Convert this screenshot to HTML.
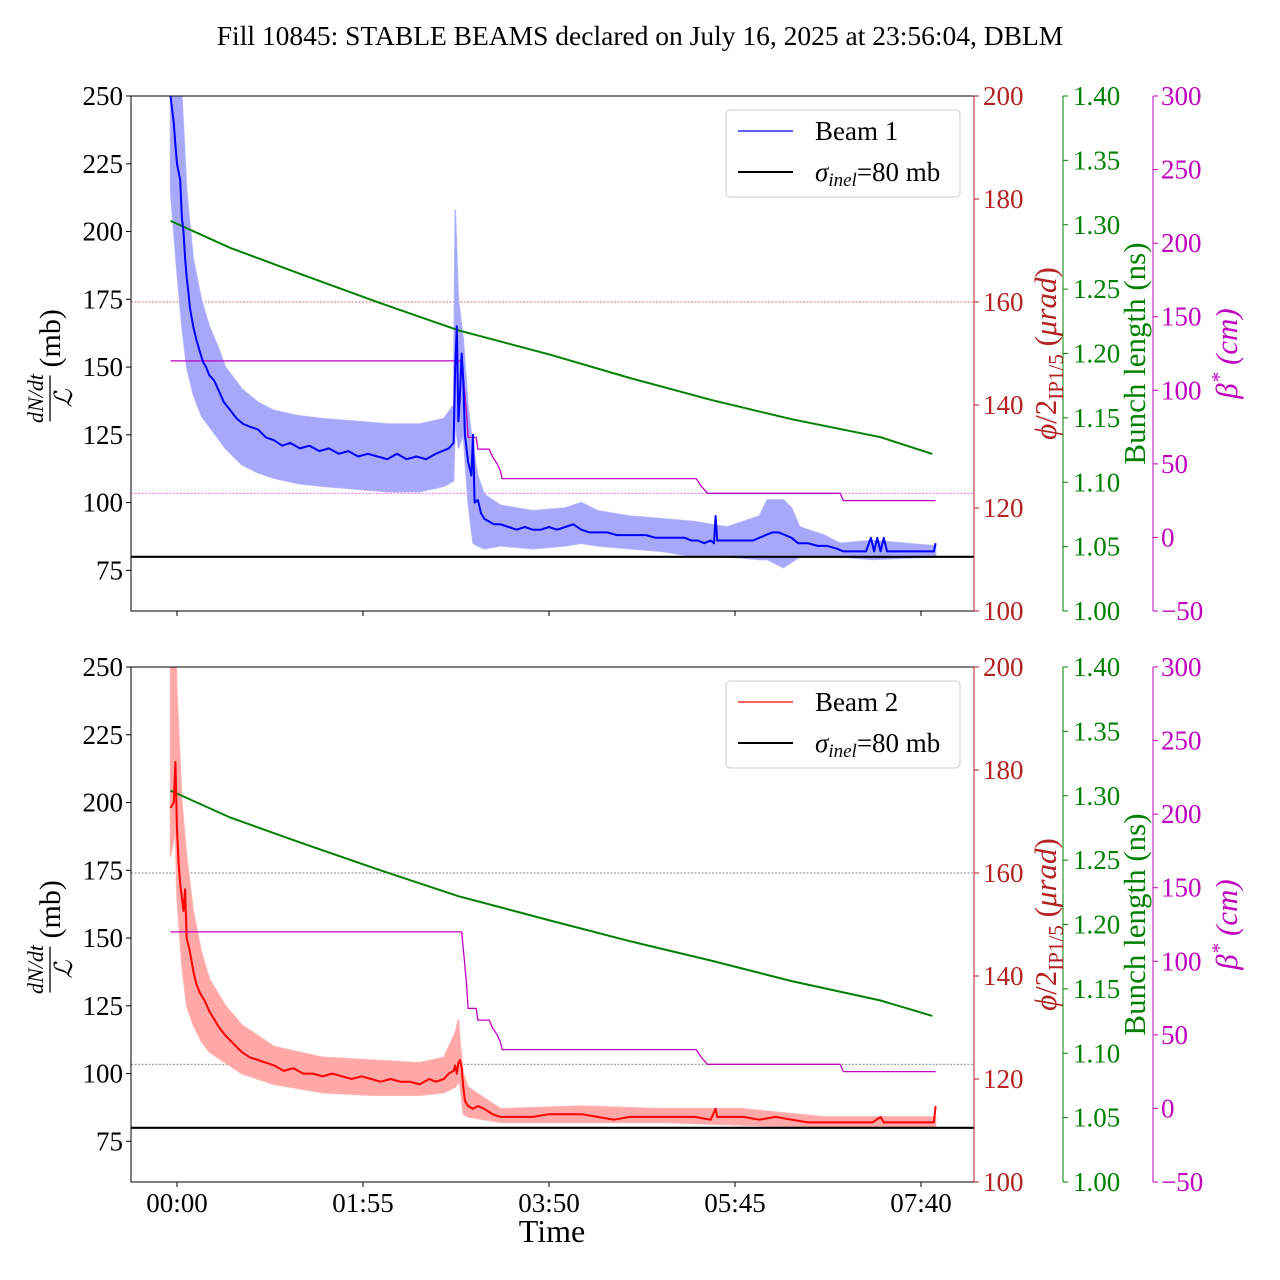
<!DOCTYPE html>
<html><head><meta charset="utf-8"><style>
html,body{margin:0;padding:0;background:#fff}
svg{display:block;font-family:"Liberation Serif","DejaVu Serif",serif}
</style></head><body>
<svg id="chart" width="1280" height="1280" viewBox="0 0 1280 1280" xmlns="http://www.w3.org/2000/svg">
<text x="640" y="45" font-size="27.5" text-anchor="middle">Fill 10845: STABLE BEAMS declared on July 16, 2025 at 23:56:04, DBLM</text>
<g id="root"></g>
</svg>
<script>
// ---------- DATA ----------
const xTickLabels = ["00:00","01:55","03:50","05:45","07:40"];
const xTickMinutes = [0,115,230,345,460];
const leftTicks = [75,100,125,150,175,200,225,250];
const redTicks = [100,120,140,160,180,200];
const greenTicks = [1.00,1.05,1.10,1.15,1.20,1.25,1.30,1.35,1.40];
const magTicks = [-50,0,50,100,150,200,250,300];
const sigmaInel = 80;
const crossingRef = 160;
const betaRef = 30;

const b1T = [-4,-2,-1,0,1,2,3,4,5,6,7,8,10,12,14,16,18,20,23,26,29,33,37,41,45,50,55,60,65,70,76,82,88,94,100,106,112,118,124,130,136,142,148,154,160,164,168,171,172,173,174,175,176,177,178,180,182,183,184,186,188,190,193,196,200,205,210,215,220,225,230,235,240,245,250,255,260,266,272,278,284,290,296,302,308,314,318,322,326,330,332,333,334,340,346,352,356,360,364,368,372,376,380,384,390,396,402,408,412,420,426,429,431,433,435,437,439,444,450,456,462,468,469];
const b1V = [250,240,232,225,222,219,205,200,190,183,178,172,165,160,156,152,150,147,145,141,137,134,131,129,128,127,124,123,121,122,120,121,119,120,118,119,117,118,117,116,118,116,117,116,118,119,120,122,150,165,130,140,155,145,125,115,110,125,100,101,96,94,93,92,92,91,90,91,90,90,91,90,91,92,90,89,89,89,88,88,88,88,87,87,87,87,86,86,85,86,85,95,86,86,86,86,86,87,88,89,89,88,87,85,85,84,84,83,82,82,82,87,82,87,82,87,82,82,82,82,82,82,85];
const b1BandT = [-4,0,3,6,10,15,20,25,30,40,50,60,75,90,110,130,150,165,171,172,174,177,180,183,186,190,200,220,240,250,260,280,300,320,340,360,365,375,380,385,400,410,430,469];
const b1Lo = [215,185,165,150,140,132,128,124,120,114,111,109,107,106,105,104,104,106,108,130,120,125,100,85,84,83,84,83,84,85,84,83,82,80,80,79,79,76,78,80,80,80,79,80];
const b1Hi = [260,260,250,215,190,175,165,158,150,142,137,134,132,131,130,129,129,131,136,208,175,160,135,120,110,103,99,97,98,100,97,95,94,93,91,95,101,101,98,91,88,85,86,84];

const b2T = [-4,-2,-1,0,1,2,3,4,5,6,8,10,12,14,17,20,23,26,30,35,40,45,50,55,60,66,72,78,84,90,96,102,108,114,120,126,132,138,144,150,156,160,165,168,171,172,173,174,175,176,177,178,180,183,186,190,195,200,210,220,230,240,250,260,270,280,290,300,310,320,330,333,334,340,350,360,370,380,390,400,410,420,430,435,437,450,460,468,469];
const b2V = [198,200,215,190,178,170,165,160,168,150,145,138,133,130,127,123,120,117,114,111,108,106,105,104,103,101,102,100,100,99,100,99,98,99,98,97,98,97,97,96,98,97,98,100,101,103,100,104,105,102,95,90,88,87,88,87,85,84,84,84,85,85,85,84,83,84,84,84,84,84,83,87,84,84,84,83,84,83,82,82,82,82,82,84,82,82,82,82,88];
const b2BandT = [-4,-1,0,3,6,10,15,20,30,40,60,90,120,150,165,172,174,175,177,180,200,250,300,350,400,469];
const b2Lo = [180,190,165,140,125,118,112,108,104,100,96,93,92,92,93,95,97,96,85,84,82,82,82,81,80,80];
const b2Hi = [250,260,240,200,180,160,145,135,125,118,110,106,105,104,106,115,120,112,100,95,87,88,87,87,84,84];

const g1T = [-4,33,80,126,174,231,280,330,380,435,467];
const g1V = [1.303,1.282,1.260,1.239,1.218,1.199,1.181,1.164,1.149,1.135,1.122];
const g2V = [1.304,1.283,1.262,1.242,1.222,1.203,1.187,1.172,1.156,1.141,1.129];

const betaT = [-4,176,179,180,185,186,193,195,198,200,201,321,324,328,410,412,469];
const betaV = [120,120,85,68,68,60,60,55,50,45,40,40,35,30,30,25,25];

// ---------- SCALES ----------
const X0=131, X1=974, H=515, FS=27;
function xs(t){return 177 + t*186/115;}
function yL(oy,v){return oy+(250-v)/190*H;}
function yR(oy,v){return oy+(200-v)/100*H;}
function yG(oy,v){return oy+(1.4-v)/0.4*H;}
function yM(oy,v){return oy+(300-v)/350*H;}

const NS="http://www.w3.org/2000/svg";
const root=document.getElementById('root');
function mk(tag,attrs,parent){const e=document.createElementNS(NS,tag);for(const k in attrs)e.setAttribute(k,attrs[k]);(parent||root).appendChild(e);return e;}
function pts(T,V,fy){return T.map((t,i)=>xs(t).toFixed(1)+','+fy(V[i]).toFixed(1)).join(' ');}

function panel(idx,oy,beamT,beamV,bandT,lo,hi,col,bandCol,gV,refCol,label){
  const defs=mk('defs',{});
  const cp=mk('clipPath',{id:'clip'+idx},defs);
  mk('rect',{x:X0,y:oy,width:X1-X0,height:H},cp);
  const g=mk('g',{'clip-path':'url(#clip'+idx+')'});
  
  
  let l=mk('line',{x1:X0,x2:X1,y1:yR(oy,crossingRef),y2:yR(oy,crossingRef),stroke:refCol[0],'stroke-width':0.8,'stroke-dasharray':'2,1.5'},g);
  
  
  l=mk('line',{x1:X0,x2:X1,y1:yM(oy,betaRef),y2:yM(oy,betaRef),stroke:refCol[1],'stroke-width':0.8,'stroke-dasharray':'2,1.5'},g);
  
  
  const bp=pts(bandT,hi,v=>yL(oy,v))+' '+pts(bandT.slice().reverse(),lo.slice().reverse(),v=>yL(oy,v));
  let e=mk('polygon',{points:bp,fill:bandCol,stroke:bandCol,'stroke-width':1.5,'stroke-opacity':0.8},g);
  
  
  e=mk('polyline',{points:pts(g1T,gV,v=>yG(oy,v)),fill:'none',stroke:'#008000','stroke-width':2},g);
  
  
  e=mk('polyline',{points:pts(betaT,betaV,v=>yM(oy,v)),fill:'none',stroke:'#bf00bf','stroke-width':1.3},g);
  
  
  e=mk('polyline',{points:pts(beamT,beamV,v=>yL(oy,v)),fill:'none',stroke:col,'stroke-width':2,'stroke-linejoin':'round'},g);
  
  
  e=mk('line',{x1:X0,x2:X1,y1:yL(oy,sigmaInel),y2:yL(oy,sigmaInel),stroke:'#000','stroke-width':2.2},g);
  
  
  mk('rect',{x:X0,y:oy,width:X1-X0,height:H,fill:'none',stroke:'#000','stroke-width':1});
  leftTicks.forEach(v=>{const y=yL(oy,v);mk('line',{x1:X0-5,x2:X0,y1:y,y2:y,stroke:'#000'});
    const t=mk('text',{x:X0-8,y:y+9,'font-size':FS,'text-anchor':'end'});t.textContent=v;
    
    });
  mk('line',{x1:X1,x2:X1,y1:oy,y2:oy+H,stroke:'#b22222'});
  redTicks.forEach(v=>{const y=yR(oy,v);mk('line',{x1:X1,x2:X1+5,y1:y,y2:y,stroke:'#b22222'});
    const t=mk('text',{x:X1+9,y:y+9,'font-size':FS,fill:'#b22222'});t.textContent=v;
    
    });
  const GX=1063;
  mk('line',{x1:GX,x2:GX,y1:oy,y2:oy+H,stroke:'#008000'});
  greenTicks.forEach(v=>{const y=yG(oy,v);mk('line',{x1:GX,x2:GX+5,y1:y,y2:y,stroke:'#008000'});
    const t=mk('text',{x:GX+10,y:y+9,'font-size':FS,fill:'#008000'});t.textContent=v.toFixed(2);
    
    });
  const MX=1153;
  mk('line',{x1:MX,x2:MX,y1:oy,y2:oy+H,stroke:'#bf00bf'});
  magTicks.forEach(v=>{const y=yM(oy,v);mk('line',{x1:MX,x2:MX+5,y1:y,y2:y,stroke:'#bf00bf'});
    const t=mk('text',{x:MX+8,y:y+9,'font-size':FS,fill:'#bf00bf'});t.textContent=(v<0?'\u2212'+(-v):v);
    
    });
  xTickMinutes.forEach((m,i)=>{const x=xs(m);mk('line',{x1:x,x2:x,y1:oy+H,y2:oy+H+5,stroke:'#000'});
    if(idx===2){const t=mk('text',{x:x,y:oy+H+30,'font-size':FS,'text-anchor':'middle'});t.textContent=xTickLabels[i];
      
      }});
  const cy=oy+H/2;
  const lg=mk('g',{transform:'translate(50,'+cy+') rotate(-90)'});
  
  
  let t=mk('text',{x:-45,y:-7,'font-size':22,'font-style':'italic','text-anchor':'middle'},lg);t.textContent='dN/dt';
  mk('line',{x1:-68,x2:-22,y1:0,y2:0,stroke:'#000','stroke-width':1.3},lg);
  t=mk('text',{x:-45,y:22,'font-size':25,'font-style':'italic','text-anchor':'middle'},lg);t.textContent='\u2112';
  t=mk('text',{x:-14,y:10,'font-size':30},lg);t.textContent='(mb)';
  const rg=mk('g',{transform:'translate(1056,'+cy+') rotate(-90)'});
  
  
  t=mk('text',{x:0,y:0,'font-size':31,fill:'#b22222','text-anchor':'middle'},rg);
  t.innerHTML='<tspan font-style="italic">\u03D5</tspan>/2<tspan font-size="21" dy="7">IP1/5</tspan><tspan dy="-7"> (</tspan><tspan font-style="italic">\u03BCrad</tspan>)';
  const gg=mk('g',{transform:'translate(1145,'+cy+') rotate(-90)'});
  
  
  t=mk('text',{x:0,y:0,'font-size':31,fill:'#008000','text-anchor':'middle'},gg);t.textContent='Bunch length (ns)';
  const mg=mk('g',{transform:'translate(1237,'+cy+') rotate(-90)'});
  
  
  t=mk('text',{x:0,y:0,'font-size':31,fill:'#bf00bf','text-anchor':'middle','font-style':'italic'},mg);
  t.innerHTML='\u03B2<tspan font-size="21" dy="-11">*</tspan><tspan dy="11"> (cm)</tspan>';
  const L=mk('g',{});
  
  
  mk('rect',{x:726,y:oy+14,width:234,height:87,rx:4,fill:'#fff','fill-opacity':0.85,stroke:'#ccc'},L);
  mk('line',{x1:738,x2:793,y1:oy+35,y2:oy+35,stroke:col,'stroke-width':1.3},L);
  t=mk('text',{x:815,y:oy+44,'font-size':FS},L);t.textContent=label;
  
  
  mk('line',{x1:738,x2:793,y1:oy+76,y2:oy+76,stroke:'#000','stroke-width':2},L);
  t=mk('text',{x:815,y:oy+85,'font-size':FS},L);
  t.innerHTML='<tspan font-style="italic">\u03C3</tspan><tspan font-style="italic" font-size="19" dy="5">inel</tspan><tspan dy="-5">=80 mb</tspan>';
  
  
}
panel(1,96,b1T,b1V,b1BandT,b1Lo,b1Hi,'#0000ff','#a8a8fa',g1V,['#d04040','#ff33ff'],'Beam 1');
panel(2,667,b2T,b2V,b2BandT,b2Lo,b2Hi,'#ff0000','#ffa8a8',g2V,['#666','#666'],'Beam 2');
const xt=mk('text',{x:552,y:1242,'font-size':32,'text-anchor':'middle'});xt.textContent='Time';


</script>
</body></html>
